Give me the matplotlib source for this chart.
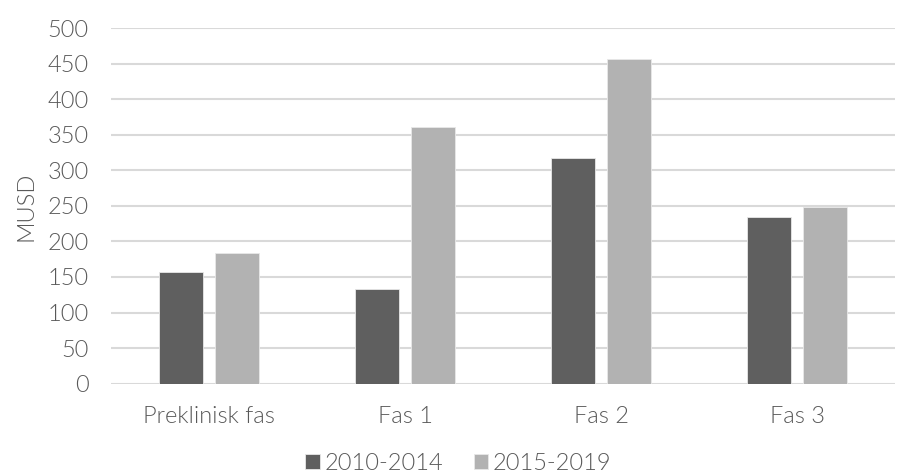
import numpy as np
from matplotlib import pyplot as plt

categories = ["Preklinisk fas", "Fas 1", "Fas 2", "Fas 3"]
series_names = ["2010-2014", "2015-2019"]
values_2010_2014 = [157, 133, 318, 235]
values_2015_2019 = [184, 361, 456, 249]

plt.rcParams['font.family'] = ['Lato', 'DejaVu Sans']
text_color = '#595959'
fw = 300  # Lato Light

fig = plt.figure(figsize=(8.97, 4.76), dpi=100)
ax = fig.add_axes([0.1237, 0.194, 0.8743, 0.747])

x = np.arange(len(categories))
w = 0.225
ax.bar(x - 0.143, values_2010_2014, w, color='#5f5f5f', edgecolor='#e8e8e8',
       lw=0.6, label=series_names[0], zorder=3)
ax.bar(x + 0.143, values_2015_2019, w, color='#b2b2b2', edgecolor='#e8e8e8',
       lw=0.6, label=series_names[1], zorder=3)

ax.set_xlim(-0.5, len(categories) - 0.5)
ax.set_ylim(0, 500)
ax.set_yticks(range(0, 501, 50))
ax.set_xticks(x)
ax.set_xticklabels(categories)
ax.grid(axis='y', color='#d9d9d9', lw=1.5, zorder=0)
ax.set_axisbelow(True)
for s in ax.spines.values():
    s.set_visible(False)
ax.tick_params(length=0, labelsize=17, labelcolor=text_color)
ax.tick_params(axis='y', pad=16)
ax.tick_params(axis='x', pad=16)
for lab in ax.get_xticklabels() + ax.get_yticklabels():
    lab.set_fontweight(fw)

ax.set_ylabel("MUSD", fontsize=17, color=text_color, fontweight=fw, labelpad=8)

leg = fig.legend(loc='lower center', bbox_to_anchor=(0.511, 0.004), ncol=2,
                 frameon=False, fontsize=17, handlelength=0.6, handleheight=0.6,
                 handletextpad=0.2, columnspacing=1.3, borderpad=0, borderaxespad=0)
for t in leg.get_texts():
    t.set_color(text_color)
    t.set_fontweight(fw)

fig.savefig("out.png", dpi=100)
